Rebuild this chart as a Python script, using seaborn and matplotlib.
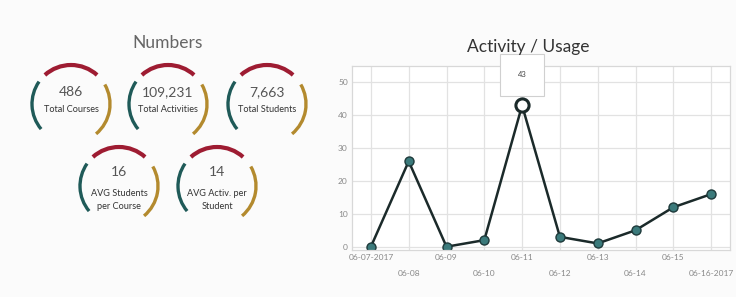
import numpy as np
import pandas as pd
import matplotlib
matplotlib.use("Agg")
import matplotlib.pyplot as plt
from matplotlib.patches import Arc
import seaborn as sns

# stat tiles
stat_values = ["486", "109,231", "7,663", "16", "14"]
stat_labels = ["Total Courses", "Total Activities", "Total Students",
               "AVG Students\nper Course", "AVG Activ. per\nStudent"]

# activity per day
dates = ["06-07-2017", "06-08", "06-09", "06-10", "06-11",
         "06-12", "06-13", "06-14", "06-15", "06-16-2017"]
activity = [0, 26, 0, 2, 43, 3, 1, 5, 12, 16]
y_ticks = [0, 10, 20, 30, 40, 50]

sns.set_style("whitegrid")
plt.rcParams['font.family'] = ['Lato', 'DejaVu Sans']

fig = plt.figure(figsize=(7.36, 2.97), dpi=100)
fig.patch.set_facecolor("#fbfbfb")

# ---- left panel: gauges, drawn in pixel coordinates
gax = fig.add_axes([0, 0, 331 / 736, 1])
gax.set_xlim(0, 331)
gax.set_ylim(297, 0)
gax.set_aspect("equal")
gax.axis("off")

gax.text(168, 43, "Numbers", ha="center", va="center", fontsize=12.5, color="#666666")

centers = [(71, 104), (168, 104), (267, 104), (119, 186), (217, 186)]
r = 39
for (cx, cy), val, lab in zip(centers, stat_values, stat_labels):
    # y axis is inverted, so angles run clockwise on screen
    gax.add_patch(Arc((cx, cy), 2 * r, 2 * r, theta1=-132, theta2=-48,
                      color="#9e1c32", lw=3.0))
    gax.add_patch(Arc((cx, cy), 2 * r, 2 * r, theta1=140, theta2=215,
                      color="#1f5a58", lw=2.4))
    gax.add_patch(Arc((cx, cy), 2 * r, 2 * r, theta1=-30, theta2=50,
                      color="#b38a2e", lw=2.4))
    two_lines = "\n" in lab
    gax.text(cx, cy - (14 if two_lines else 12), val, ha="center", va="center",
             fontsize=10, color="#555555")
    gax.text(cx, cy + (14 if two_lines else 6), lab, ha="center", va="center",
             fontsize=6.6, color="#333333", linespacing=1.6)

# ---- right panel: activity line chart
ax = fig.add_axes([352 / 736, 1 - 250 / 297, 378 / 736, 184 / 297])
ax.set_facecolor("white")
df = pd.DataFrame({"idx": np.arange(len(dates)), "activity": activity})
sns.lineplot(data=df, x="idx", y="activity", ax=ax, color="#1b2a2a", lw=1.8,
             marker="o", markersize=6.5, markerfacecolor="#3b7a7b",
             markeredgecolor="#1e3a3b", markeredgewidth=1.0)

peak = int(np.argmax(activity))
ax.scatter([peak], [activity[peak]], s=90, facecolor="white",
           edgecolor="#1b2a2a", linewidth=2.2, zorder=5)
ax.annotate(str(activity[peak]), xy=(peak, activity[peak]),
            xytext=(0, 22), textcoords="offset points", ha="center", va="center",
            fontsize=5.5, color="#444444", annotation_clip=False,
            bbox=dict(boxstyle="square,pad=2.3", fc="white", ec="#d0d0d0", lw=0.8),
            arrowprops=dict(arrowstyle="wedge,tail_width=0.7,shrink_factor=0.5",
                            fc="white", ec="#d0d0d0", lw=0.8, shrinkB=0))

ax.set_xlim(-0.5, len(dates) - 0.5)
ax.set_ylim(-1, 55)
ax.set_yticks(y_ticks)
ax.set_xticks(np.arange(len(dates)))
ax.set_xticklabels([d if i % 2 == 0 else "\n" + d for i, d in enumerate(dates)])
for t in ax.get_xticklabels():
    t.set_linespacing(2.4)
ax.tick_params(axis="both", length=0, labelsize=6, labelcolor="#888888", pad=3)
ax.set_xlabel("")
ax.set_ylabel("")
ax.grid(True, color="#e2e2e2", lw=0.9)
for s in ax.spines.values():
    s.set_visible(True)
    s.set_color("#d8d8d8")
    s.set_linewidth(0.9)

fig.text(528 / 736, 1 - 47 / 297, "Activity / Usage", ha="center", va="center",
         fontsize=12.5, color="#333333")

fig.savefig("out.png", dpi=100, facecolor=fig.get_facecolor())
